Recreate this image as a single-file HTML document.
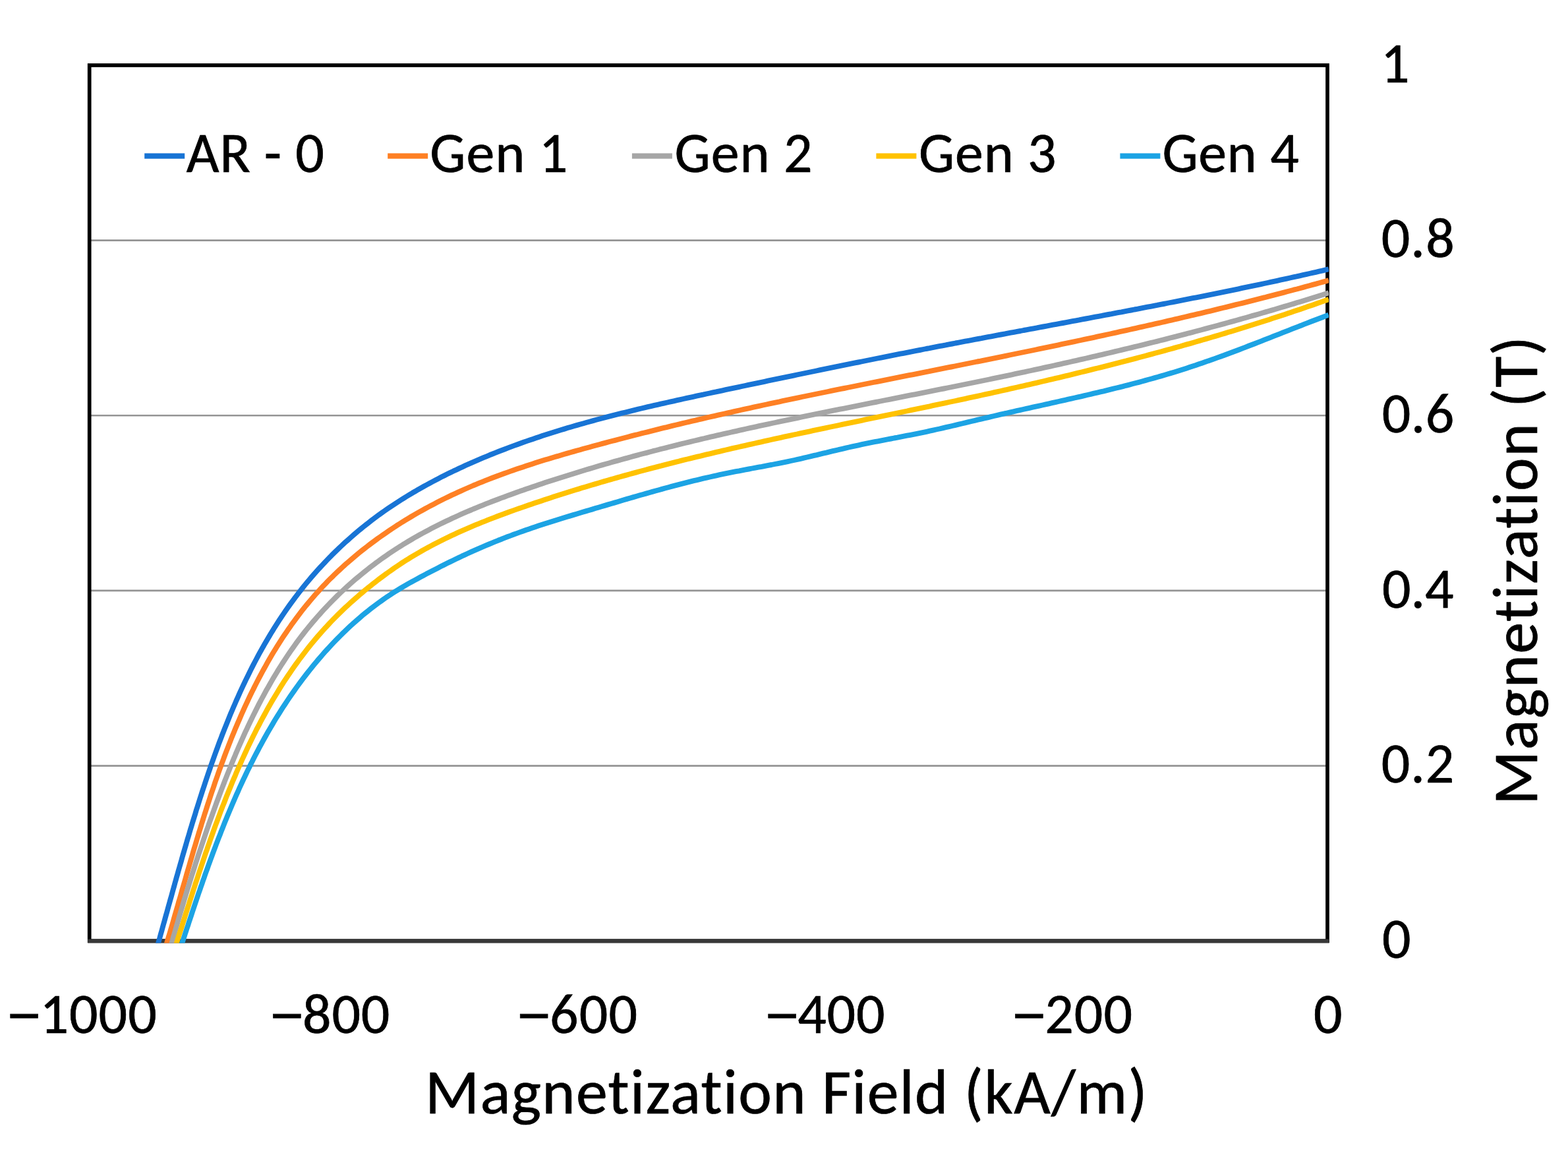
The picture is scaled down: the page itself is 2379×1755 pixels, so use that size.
<!DOCTYPE html>
<html><head><meta charset="utf-8"><title>Magnetization chart</title>
<style>
html,body{margin:0;padding:0;background:#fff;}
body{width:2379px;height:1755px;overflow:hidden;}
svg{display:block;}
text{font-family:"Carlito", "Liberation Sans", sans-serif;fill:#000;stroke:#000;stroke-width:0.7px;font-variant-ligatures:none;font-size-adjust:cap-height 0.6416;}
.mn{font-family:"Liberation Sans",sans-serif;font-size-adjust:none;}
</style></head><body>
<svg width="2379" height="1755" viewBox="0 0 2379 1755">
<rect width="2379" height="1755" fill="#fff"/>
<line x1="135.7" y1="1161.6" x2="2014.0" y2="1161.6" stroke="#949494" stroke-width="2.6"/>
<line x1="135.7" y1="895.9" x2="2014.0" y2="895.9" stroke="#949494" stroke-width="2.6"/>
<line x1="135.7" y1="630.3" x2="2014.0" y2="630.3" stroke="#949494" stroke-width="2.6"/>
<line x1="135.7" y1="364.6" x2="2014.0" y2="364.6" stroke="#949494" stroke-width="2.6"/>
<rect x="135.7" y="99.0" width="1878.3" height="1328.2" fill="none" stroke="#000" stroke-width="5.7"/>
<line x1="133.1" y1="1427.5" x2="2016.6" y2="1427.5" stroke="#383838" stroke-width="6"/>
<clipPath id="c"><rect x="135.7" y="99.0" width="1880.3" height="1331.6"/></clipPath>
<g clip-path="url(#c)" fill="none" stroke-width="7.9" stroke-linejoin="round" stroke-linecap="butt">
<path d="M237.2,1440.8 L238.6,1436.0 L239.9,1431.3 L241.3,1426.5 L242.6,1421.7 L243.9,1416.9 L245.3,1412.1 L246.6,1407.3 L247.9,1402.5 L249.3,1397.7 L250.6,1392.9 L251.9,1388.1 L253.3,1383.3 L254.6,1378.5 L255.9,1373.7 L257.3,1368.9 L258.6,1364.1 L260.0,1359.3 L261.3,1354.5 L262.6,1349.7 L264.0,1344.9 L265.3,1340.0 L266.7,1335.2 L268.0,1330.4 L269.4,1325.6 L270.7,1320.8 L272.1,1316.0 L273.5,1311.2 L274.9,1306.4 L276.2,1301.5 L277.6,1296.7 L279.0,1291.9 L280.4,1287.1 L281.8,1282.3 L283.2,1277.5 L284.6,1272.7 L286.1,1267.8 L287.5,1263.0 L288.9,1258.2 L290.4,1253.4 L291.8,1248.6 L293.3,1243.8 L294.8,1239.0 L296.3,1234.2 L297.7,1229.3 L299.3,1224.5 L300.8,1219.7 L302.3,1214.9 L303.8,1210.1 L305.4,1205.3 L306.9,1200.5 L308.5,1195.7 L310.1,1190.9 L311.7,1186.1 L313.3,1181.3 L314.9,1176.5 L316.5,1171.7 L318.2,1166.9 L319.8,1162.1 L321.5,1157.3 L323.2,1152.6 L324.9,1147.8 L326.6,1143.0 L328.3,1138.3 L330.1,1133.5 L331.8,1128.7 L333.6,1124.0 L335.4,1119.3 L337.2,1114.5 L339.1,1109.8 L340.9,1105.1 L342.8,1100.4 L344.7,1095.7 L346.6,1091.0 L348.5,1086.3 L350.4,1081.6 L352.4,1077.0 L354.4,1072.3 L356.4,1067.7 L358.4,1063.0 L360.5,1058.4 L362.5,1053.8 L364.6,1049.2 L366.7,1044.6 L368.8,1040.1 L371.0,1035.5 L373.2,1030.9 L375.4,1026.4 L377.6,1021.9 L379.8,1017.4 L382.1,1012.9 L384.4,1008.4 L386.7,1004.0 L389.1,999.5 L391.4,995.1 L393.8,990.7 L396.3,986.3 L398.7,981.9 L401.2,977.6 L403.7,973.2 L406.2,968.9 L408.8,964.6 L411.4,960.3 L414.0,956.1 L416.6,951.8 L419.3,947.6 L422.0,943.4 L424.7,939.2 L427.5,935.1 L430.3,930.9 L433.1,926.8 L435.9,922.7 L438.8,918.6 L441.7,914.6 L444.7,910.6 L447.6,906.6 L450.7,902.6 L453.7,898.6 L456.8,894.7 L459.9,890.8 L463.0,886.9 L466.2,883.0 L469.4,879.2 L472.6,875.4 L475.9,871.6 L479.2,867.9 L482.5,864.2 L485.9,860.5 L489.3,856.8 L492.7,853.2 L496.1,849.6 L499.6,846.0 L503.1,842.4 L506.7,838.9 L510.3,835.4 L513.9,831.9 L517.5,828.5 L521.1,825.1 L524.8,821.7 L528.6,818.4 L532.3,815.1 L536.1,811.8 L539.9,808.5 L543.7,805.3 L547.6,802.1 L551.4,799.0 L555.4,795.8 L559.3,792.8 L563.3,789.7 L567.3,786.7 L571.3,783.7 L575.3,780.7 L579.4,777.8 L583.5,774.9 L587.6,772.1 L591.7,769.3 L595.9,766.5 L600.1,763.7 L604.3,761.0 L608.5,758.3 L612.8,755.6 L617.0,753.0 L621.3,750.4 L625.6,747.8 L630.0,745.3 L634.3,742.7 L638.7,740.3 L643.1,737.8 L647.5,735.4 L651.9,733.0 L656.3,730.6 L660.8,728.2 L665.2,725.9 L669.7,723.6 L674.2,721.4 L678.7,719.1 L683.2,716.9 L687.7,714.7 L692.3,712.6 L696.8,710.4 L701.4,708.3 L705.9,706.2 L710.5,704.2 L715.1,702.1 L719.7,700.1 L724.3,698.1 L728.9,696.1 L733.5,694.2 L738.1,692.3 L742.8,690.3 L747.4,688.5 L752.1,686.6 L756.7,684.8 L761.4,683.0 L766.1,681.2 L770.8,679.4 L775.5,677.6 L780.2,675.9 L784.9,674.2 L789.6,672.5 L794.3,670.8 L799.1,669.1 L803.8,667.5 L808.6,665.9 L813.3,664.3 L818.1,662.7 L822.8,661.1 L827.6,659.6 L832.4,658.0 L837.2,656.5 L842.0,655.0 L846.8,653.5 L851.6,652.0 L856.4,650.6 L861.2,649.1 L866.0,647.7 L870.8,646.3 L875.7,644.9 L880.5,643.5 L885.3,642.2 L890.2,640.8 L895.0,639.5 L899.9,638.1 L904.7,636.8 L909.6,635.5 L914.5,634.2 L919.3,632.9 L924.2,631.7 L929.1,630.4 L934.0,629.2 L938.9,627.9 L943.7,626.7 L948.6,625.5 L953.5,624.3 L958.4,623.1 L963.3,621.9 L968.2,620.7 L973.1,619.5 L978.0,618.4 L982.9,617.2 L987.8,616.1 L992.7,614.9 L997.7,613.8 L1002.6,612.7 L1007.5,611.6 L1012.4,610.5 L1017.3,609.4 L1022.3,608.3 L1027.2,607.2 L1032.1,606.1 L1037.0,605.0 L1041.9,603.9 L1046.9,602.8 L1051.8,601.8 L1056.7,600.7 L1061.6,599.6 L1066.6,598.6 L1071.5,597.5 L1076.4,596.5 L1081.3,595.4 L1086.3,594.4 L1091.2,593.3 L1096.1,592.3 L1101.0,591.2 L1105.9,590.2 L1110.9,589.1 L1115.8,588.1 L1120.7,587.1 L1125.6,586.0 L1130.5,585.0 L1135.4,583.9 L1140.4,582.9 L1145.3,581.9 L1150.2,580.8 L1155.1,579.8 L1160.0,578.8 L1164.9,577.7 L1169.8,576.7 L1174.7,575.7 L1179.6,574.7 L1184.5,573.6 L1189.4,572.6 L1194.3,571.6 L1199.3,570.6 L1204.2,569.6 L1209.1,568.5 L1214.0,567.5 L1218.9,566.5 L1223.8,565.5 L1228.7,564.5 L1233.6,563.5 L1238.5,562.5 L1243.4,561.4 L1248.3,560.4 L1253.2,559.4 L1258.1,558.4 L1263.0,557.4 L1267.9,556.4 L1272.8,555.4 L1277.7,554.4 L1282.6,553.4 L1287.5,552.4 L1292.4,551.4 L1297.3,550.4 L1302.2,549.5 L1307.1,548.5 L1312.0,547.5 L1316.9,546.5 L1321.9,545.5 L1326.8,544.5 L1331.7,543.5 L1336.6,542.6 L1341.5,541.6 L1346.4,540.6 L1351.3,539.6 L1356.2,538.7 L1361.1,537.7 L1366.0,536.7 L1370.9,535.8 L1375.8,534.8 L1380.8,533.8 L1385.7,532.9 L1390.6,531.9 L1395.5,531.0 L1400.4,530.0 L1405.3,529.0 L1410.3,528.1 L1415.2,527.1 L1420.1,526.2 L1425.0,525.2 L1429.9,524.3 L1434.9,523.4 L1439.8,522.4 L1444.7,521.5 L1449.6,520.5 L1454.6,519.6 L1459.5,518.7 L1464.4,517.7 L1469.3,516.8 L1474.3,515.9 L1479.2,514.9 L1484.1,514.0 L1489.1,513.1 L1494.0,512.1 L1498.9,511.2 L1503.9,510.3 L1508.8,509.4 L1513.7,508.4 L1518.7,507.5 L1523.6,506.6 L1528.5,505.7 L1533.5,504.7 L1538.4,503.8 L1543.3,502.9 L1548.3,502.0 L1553.2,501.0 L1558.2,500.1 L1563.1,499.2 L1568.0,498.3 L1573.0,497.4 L1577.9,496.4 L1582.8,495.5 L1587.8,494.6 L1592.7,493.7 L1597.7,492.7 L1602.6,491.8 L1607.5,490.9 L1612.5,490.0 L1617.4,489.1 L1622.4,488.1 L1627.3,487.2 L1632.2,486.3 L1637.2,485.4 L1642.1,484.4 L1647.1,483.5 L1652.0,482.6 L1656.9,481.7 L1661.9,480.7 L1666.8,479.8 L1671.8,478.9 L1676.7,477.9 L1681.6,477.0 L1686.6,476.1 L1691.5,475.1 L1696.4,474.2 L1701.4,473.3 L1706.3,472.3 L1711.3,471.4 L1716.2,470.5 L1721.1,469.5 L1726.1,468.6 L1731.0,467.6 L1735.9,466.7 L1740.9,465.7 L1745.8,464.8 L1750.7,463.8 L1755.7,462.9 L1760.6,461.9 L1765.5,461.0 L1770.5,460.0 L1775.4,459.0 L1780.3,458.1 L1785.3,457.1 L1790.2,456.1 L1795.1,455.2 L1800.1,454.2 L1805.0,453.2 L1809.9,452.2 L1814.8,451.3 L1819.8,450.3 L1824.7,449.3 L1829.6,448.3 L1834.5,447.3 L1839.5,446.3 L1844.4,445.3 L1849.3,444.3 L1854.2,443.3 L1859.1,442.3 L1864.0,441.3 L1869.0,440.3 L1873.9,439.3 L1878.8,438.3 L1883.7,437.2 L1888.6,436.2 L1893.5,435.2 L1898.4,434.2 L1903.3,433.1 L1908.3,432.1 L1913.2,431.1 L1918.1,430.0 L1923.0,429.0 L1927.9,427.9 L1932.8,426.9 L1937.7,425.8 L1942.6,424.7 L1947.5,423.7 L1952.4,422.6 L1957.3,421.5 L1962.2,420.4 L1967.1,419.4 L1971.9,418.3 L1976.8,417.2 L1981.7,416.1 L1986.6,415.0 L1991.5,413.9 L1996.4,412.8 L2001.3,411.7 L2006.1,410.6 L2011.0,409.4 L2015.9,408.3" stroke="#1874d5"/>
<path d="M249.9,1440.9 L251.4,1436.1 L252.8,1431.3 L254.2,1426.5 L255.6,1421.7 L257.1,1417.0 L258.5,1412.2 L259.9,1407.4 L261.3,1402.6 L262.7,1397.8 L264.0,1393.0 L265.4,1388.2 L266.8,1383.4 L268.2,1378.6 L269.6,1373.8 L270.9,1369.0 L272.3,1364.3 L273.7,1359.5 L275.1,1354.7 L276.4,1349.9 L277.8,1345.1 L279.2,1340.3 L280.6,1335.5 L282.0,1330.7 L283.3,1325.9 L284.7,1321.1 L286.1,1316.3 L287.5,1311.5 L288.9,1306.7 L290.3,1301.9 L291.7,1297.1 L293.1,1292.2 L294.5,1287.4 L296.0,1282.6 L297.4,1277.8 L298.8,1273.0 L300.3,1268.2 L301.7,1263.4 L303.2,1258.6 L304.7,1253.8 L306.1,1249.0 L307.6,1244.2 L309.1,1239.4 L310.6,1234.6 L312.2,1229.8 L313.7,1225.0 L315.2,1220.2 L316.8,1215.4 L318.4,1210.6 L319.9,1205.8 L321.5,1201.0 L323.2,1196.2 L324.8,1191.4 L326.4,1186.6 L328.1,1181.8 L329.8,1177.0 L331.4,1172.3 L333.1,1167.5 L334.9,1162.7 L336.6,1157.9 L338.4,1153.2 L340.1,1148.4 L341.9,1143.6 L343.7,1138.9 L345.6,1134.1 L347.4,1129.4 L349.3,1124.6 L351.1,1119.9 L353.0,1115.2 L355.0,1110.5 L356.9,1105.8 L358.9,1101.1 L360.9,1096.4 L362.9,1091.8 L364.9,1087.1 L366.9,1082.5 L369.0,1077.8 L371.1,1073.2 L373.2,1068.6 L375.4,1064.0 L377.5,1059.4 L379.7,1054.8 L381.9,1050.3 L384.2,1045.8 L386.4,1041.2 L388.7,1036.7 L391.0,1032.2 L393.3,1027.8 L395.7,1023.3 L398.1,1018.9 L400.5,1014.5 L403.0,1010.1 L405.4,1005.7 L407.9,1001.3 L410.4,997.0 L413.0,992.6 L415.6,988.3 L418.2,984.1 L420.8,979.8 L423.5,975.6 L426.2,971.4 L428.9,967.2 L431.7,963.0 L434.5,958.9 L437.3,954.8 L440.2,950.7 L443.0,946.6 L446.0,942.6 L448.9,938.6 L451.9,934.6 L454.9,930.6 L457.9,926.7 L461.0,922.8 L464.1,918.9 L467.3,915.1 L470.5,911.3 L473.7,907.5 L477.0,903.7 L480.2,900.0 L483.6,896.3 L486.9,892.6 L490.3,889.0 L493.8,885.4 L497.2,881.8 L500.7,878.3 L504.3,874.8 L507.8,871.3 L511.4,867.9 L515.1,864.5 L518.7,861.1 L522.4,857.8 L526.1,854.4 L529.9,851.2 L533.7,847.9 L537.5,844.7 L541.3,841.5 L545.2,838.3 L549.1,835.2 L553.0,832.1 L557.0,829.0 L560.9,826.0 L564.9,823.0 L569.0,820.0 L573.0,817.0 L577.1,814.1 L581.2,811.2 L585.3,808.4 L589.5,805.5 L593.6,802.7 L597.8,800.0 L602.0,797.2 L606.3,794.5 L610.5,791.8 L614.8,789.2 L619.1,786.6 L623.4,784.0 L627.8,781.4 L632.1,778.9 L636.5,776.4 L640.9,774.0 L645.3,771.5 L649.7,769.1 L654.2,766.7 L658.7,764.4 L663.1,762.1 L667.6,759.8 L672.1,757.5 L676.7,755.3 L681.2,753.1 L685.7,750.9 L690.3,748.8 L694.9,746.7 L699.5,744.6 L704.1,742.5 L708.7,740.5 L713.3,738.5 L717.9,736.5 L722.6,734.6 L727.2,732.7 L731.9,730.8 L736.6,728.9 L741.2,727.1 L745.9,725.3 L750.6,723.5 L755.3,721.7 L760.1,720.0 L764.8,718.3 L769.5,716.6 L774.3,714.9 L779.0,713.2 L783.8,711.6 L788.5,710.0 L793.3,708.4 L798.1,706.8 L802.9,705.2 L807.7,703.7 L812.5,702.1 L817.3,700.6 L822.1,699.1 L826.9,697.6 L831.7,696.2 L836.5,694.7 L841.3,693.3 L846.2,691.9 L851.0,690.4 L855.8,689.0 L860.7,687.6 L865.5,686.3 L870.4,684.9 L875.2,683.5 L880.1,682.2 L884.9,680.8 L889.8,679.5 L894.6,678.2 L899.5,676.8 L904.3,675.5 L909.2,674.2 L914.0,672.9 L918.9,671.6 L923.7,670.3 L928.6,669.0 L933.4,667.8 L938.3,666.5 L943.2,665.2 L948.0,664.0 L952.9,662.7 L957.7,661.4 L962.6,660.2 L967.5,659.0 L972.3,657.7 L977.2,656.5 L982.1,655.3 L986.9,654.1 L991.8,652.9 L996.7,651.6 L1001.5,650.4 L1006.4,649.2 L1011.3,648.1 L1016.1,646.9 L1021.0,645.7 L1025.9,644.5 L1030.8,643.3 L1035.6,642.2 L1040.5,641.0 L1045.4,639.9 L1050.3,638.7 L1055.2,637.6 L1060.0,636.4 L1064.9,635.3 L1069.8,634.2 L1074.7,633.0 L1079.6,631.9 L1084.5,630.8 L1089.4,629.7 L1094.2,628.6 L1099.1,627.5 L1104.0,626.4 L1108.9,625.3 L1113.8,624.2 L1118.7,623.1 L1123.6,622.0 L1128.5,620.9 L1133.4,619.8 L1138.3,618.8 L1143.2,617.7 L1148.1,616.6 L1153.0,615.6 L1157.9,614.5 L1162.8,613.5 L1167.7,612.4 L1172.6,611.4 L1177.5,610.3 L1182.5,609.3 L1187.4,608.2 L1192.3,607.2 L1197.2,606.2 L1202.1,605.1 L1207.0,604.1 L1211.9,603.1 L1216.8,602.0 L1221.8,601.0 L1226.7,600.0 L1231.6,599.0 L1236.5,598.0 L1241.4,597.0 L1246.3,596.0 L1251.3,595.0 L1256.2,594.0 L1261.1,592.9 L1266.0,591.9 L1270.9,590.9 L1275.9,589.9 L1280.8,589.0 L1285.7,588.0 L1290.6,587.0 L1295.6,586.0 L1300.5,585.0 L1305.4,584.0 L1310.3,583.0 L1315.3,582.0 L1320.2,581.0 L1325.1,580.0 L1330.0,579.1 L1335.0,578.1 L1339.9,577.1 L1344.8,576.1 L1349.7,575.1 L1354.7,574.1 L1359.6,573.2 L1364.5,572.2 L1369.4,571.2 L1374.4,570.2 L1379.3,569.2 L1384.2,568.3 L1389.2,567.3 L1394.1,566.3 L1399.0,565.3 L1403.9,564.3 L1408.9,563.4 L1413.8,562.4 L1418.7,561.4 L1423.6,560.4 L1428.6,559.4 L1433.5,558.4 L1438.4,557.4 L1443.3,556.5 L1448.3,555.5 L1453.2,554.5 L1458.1,553.5 L1463.0,552.5 L1468.0,551.5 L1472.9,550.5 L1477.8,549.5 L1482.7,548.5 L1487.7,547.6 L1492.6,546.6 L1497.5,545.6 L1502.4,544.6 L1507.4,543.6 L1512.3,542.6 L1517.2,541.6 L1522.1,540.6 L1527.0,539.6 L1532.0,538.5 L1536.9,537.5 L1541.8,536.5 L1546.7,535.5 L1551.6,534.5 L1556.6,533.5 L1561.5,532.5 L1566.4,531.5 L1571.3,530.5 L1576.2,529.4 L1581.2,528.4 L1586.1,527.4 L1591.0,526.4 L1595.9,525.3 L1600.8,524.3 L1605.7,523.3 L1610.6,522.2 L1615.6,521.2 L1620.5,520.2 L1625.4,519.1 L1630.3,518.1 L1635.2,517.0 L1640.1,516.0 L1645.0,514.9 L1649.9,513.9 L1654.9,512.8 L1659.8,511.8 L1664.7,510.7 L1669.6,509.7 L1674.5,508.6 L1679.4,507.5 L1684.3,506.5 L1689.2,505.4 L1694.1,504.3 L1699.0,503.2 L1703.9,502.2 L1708.8,501.1 L1713.7,500.0 L1718.6,498.9 L1723.5,497.8 L1728.4,496.7 L1733.3,495.6 L1738.2,494.5 L1743.1,493.4 L1748.0,492.3 L1752.9,491.2 L1757.8,490.1 L1762.7,489.0 L1767.6,487.8 L1772.5,486.7 L1777.4,485.6 L1782.3,484.4 L1787.2,483.3 L1792.1,482.2 L1796.9,481.0 L1801.8,479.9 L1806.7,478.7 L1811.6,477.6 L1816.5,476.4 L1821.4,475.3 L1826.3,474.1 L1831.1,472.9 L1836.0,471.8 L1840.9,470.6 L1845.8,469.4 L1850.7,468.2 L1855.5,467.0 L1860.4,465.8 L1865.3,464.6 L1870.2,463.4 L1875.0,462.2 L1879.9,461.0 L1884.8,459.8 L1889.7,458.6 L1894.5,457.4 L1899.4,456.1 L1904.3,454.9 L1909.1,453.7 L1914.0,452.4 L1918.9,451.2 L1923.7,449.9 L1928.6,448.7 L1933.5,447.4 L1938.3,446.1 L1943.2,444.9 L1948.0,443.6 L1952.9,442.3 L1957.8,441.0 L1962.6,439.7 L1967.5,438.5 L1972.3,437.2 L1977.2,435.9 L1982.0,434.5 L1986.9,433.2 L1991.7,431.9 L1996.6,430.6 L2001.4,429.2 L2006.3,427.9 L2011.1,426.6 L2015.9,425.2" stroke="#fe8024"/>
<path d="M257.6,1441.0 L258.9,1436.1 L260.3,1431.3 L261.7,1426.5 L263.0,1421.6 L264.4,1416.8 L265.8,1412.0 L267.2,1407.2 L268.6,1402.3 L270.0,1397.5 L271.4,1392.7 L272.8,1387.9 L274.2,1383.1 L275.6,1378.3 L277.1,1373.5 L278.5,1368.7 L279.9,1363.9 L281.4,1359.1 L282.8,1354.4 L284.3,1349.6 L285.8,1344.8 L287.3,1340.0 L288.7,1335.2 L290.2,1330.5 L291.7,1325.7 L293.3,1320.9 L294.8,1316.2 L296.3,1311.4 L297.8,1306.7 L299.4,1301.9 L300.9,1297.2 L302.5,1292.4 L304.1,1287.7 L305.7,1282.9 L307.3,1278.2 L308.9,1273.4 L310.5,1268.7 L312.1,1264.0 L313.7,1259.2 L315.4,1254.5 L317.0,1249.8 L318.7,1245.0 L320.4,1240.3 L322.1,1235.6 L323.8,1230.9 L325.5,1226.2 L327.2,1221.4 L328.9,1216.7 L330.7,1212.0 L332.4,1207.3 L334.2,1202.6 L336.0,1197.9 L337.8,1193.2 L339.6,1188.5 L341.4,1183.7 L343.3,1179.0 L345.1,1174.4 L347.0,1169.7 L348.9,1165.0 L350.8,1160.3 L352.7,1155.6 L354.6,1150.9 L356.6,1146.3 L358.5,1141.6 L360.5,1137.0 L362.5,1132.3 L364.6,1127.7 L366.6,1123.1 L368.7,1118.4 L370.7,1113.8 L372.8,1109.2 L375.0,1104.7 L377.1,1100.1 L379.3,1095.5 L381.5,1091.0 L383.7,1086.4 L385.9,1081.9 L388.2,1077.4 L390.4,1072.9 L392.7,1068.4 L395.1,1063.9 L397.4,1059.5 L399.8,1055.1 L402.2,1050.6 L404.6,1046.2 L407.1,1041.9 L409.6,1037.5 L412.1,1033.1 L414.6,1028.8 L417.2,1024.5 L419.8,1020.2 L422.4,1015.9 L425.1,1011.7 L427.7,1007.5 L430.5,1003.3 L433.2,999.1 L436.0,994.9 L438.8,990.8 L441.6,986.6 L444.5,982.6 L447.4,978.5 L450.3,974.4 L453.3,970.4 L456.3,966.4 L459.3,962.5 L462.4,958.5 L465.5,954.6 L468.7,950.7 L471.8,946.9 L475.0,943.1 L478.3,939.3 L481.6,935.5 L484.9,931.8 L488.2,928.1 L491.6,924.4 L495.1,920.7 L498.5,917.1 L502.0,913.5 L505.5,910.0 L509.1,906.4 L512.6,902.9 L516.2,899.5 L519.9,896.0 L523.6,892.6 L527.3,889.3 L531.0,885.9 L534.7,882.6 L538.5,879.3 L542.4,876.1 L546.2,872.9 L550.1,869.7 L554.0,866.6 L557.9,863.5 L561.8,860.4 L565.8,857.4 L569.8,854.3 L573.9,851.4 L577.9,848.4 L582.0,845.5 L586.1,842.7 L590.2,839.8 L594.4,837.0 L598.6,834.3 L602.8,831.5 L607.0,828.9 L611.2,826.2 L615.5,823.6 L619.8,821.0 L624.1,818.5 L628.4,815.9 L632.7,813.5 L637.1,811.0 L641.5,808.6 L645.9,806.2 L650.3,803.9 L654.7,801.6 L659.2,799.3 L663.7,797.0 L668.1,794.8 L672.6,792.6 L677.2,790.4 L681.7,788.3 L686.2,786.1 L690.8,784.1 L695.4,782.0 L699.9,779.9 L704.5,777.9 L709.2,775.9 L713.8,774.0 L718.4,772.0 L723.1,770.1 L727.7,768.2 L732.4,766.3 L737.0,764.4 L741.7,762.6 L746.4,760.8 L751.1,759.0 L755.8,757.2 L760.5,755.4 L765.3,753.7 L770.0,751.9 L774.7,750.2 L779.5,748.5 L784.2,746.8 L788.9,745.1 L793.7,743.5 L798.4,741.8 L803.2,740.2 L808.0,738.5 L812.7,736.9 L817.5,735.3 L822.3,733.7 L827.0,732.1 L831.8,730.6 L836.6,729.0 L841.4,727.4 L846.1,725.9 L850.9,724.4 L855.7,722.9 L860.5,721.4 L865.3,719.9 L870.1,718.4 L874.9,716.9 L879.7,715.4 L884.5,714.0 L889.3,712.5 L894.1,711.1 L898.9,709.7 L903.7,708.2 L908.5,706.8 L913.4,705.4 L918.2,704.0 L923.0,702.7 L927.8,701.3 L932.6,699.9 L937.5,698.6 L942.3,697.2 L947.1,695.9 L952.0,694.6 L956.8,693.2 L961.6,691.9 L966.5,690.6 L971.3,689.3 L976.2,688.0 L981.0,686.8 L985.9,685.5 L990.7,684.2 L995.6,683.0 L1000.4,681.7 L1005.3,680.5 L1010.1,679.3 L1015.0,678.0 L1019.9,676.8 L1024.7,675.6 L1029.6,674.4 L1034.5,673.2 L1039.3,672.0 L1044.2,670.8 L1049.1,669.6 L1053.9,668.5 L1058.8,667.3 L1063.7,666.1 L1068.6,665.0 L1073.4,663.8 L1078.3,662.7 L1083.2,661.6 L1088.1,660.4 L1093.0,659.3 L1097.9,658.2 L1102.7,657.1 L1107.6,656.0 L1112.5,654.9 L1117.4,653.8 L1122.3,652.7 L1127.2,651.6 L1132.1,650.5 L1137.0,649.4 L1141.9,648.4 L1146.8,647.3 L1151.7,646.2 L1156.6,645.2 L1161.5,644.1 L1166.4,643.1 L1171.3,642.0 L1176.2,641.0 L1181.1,639.9 L1186.0,638.9 L1190.9,637.9 L1195.8,636.8 L1200.7,635.8 L1205.7,634.8 L1210.6,633.8 L1215.5,632.7 L1220.4,631.7 L1225.3,630.7 L1230.2,629.7 L1235.1,628.7 L1240.0,627.7 L1245.0,626.7 L1249.9,625.7 L1254.8,624.7 L1259.7,623.7 L1264.6,622.7 L1269.5,621.7 L1274.5,620.7 L1279.4,619.8 L1284.3,618.8 L1289.2,617.8 L1294.1,616.8 L1299.1,615.8 L1304.0,614.8 L1308.9,613.9 L1313.8,612.9 L1318.8,611.9 L1323.7,610.9 L1328.6,610.0 L1333.5,609.0 L1338.4,608.0 L1343.4,607.0 L1348.3,606.1 L1353.2,605.1 L1358.1,604.1 L1363.1,603.1 L1368.0,602.2 L1372.9,601.2 L1377.8,600.2 L1382.8,599.2 L1387.7,598.3 L1392.6,597.3 L1397.5,596.3 L1402.5,595.3 L1407.4,594.4 L1412.3,593.4 L1417.2,592.4 L1422.1,591.4 L1427.1,590.4 L1432.0,589.5 L1436.9,588.5 L1441.8,587.5 L1446.7,586.5 L1451.7,585.5 L1456.6,584.5 L1461.5,583.5 L1466.4,582.5 L1471.3,581.5 L1476.3,580.5 L1481.2,579.5 L1486.1,578.5 L1491.0,577.5 L1495.9,576.5 L1500.8,575.5 L1505.8,574.4 L1510.7,573.4 L1515.6,572.4 L1520.5,571.4 L1525.4,570.3 L1530.3,569.3 L1535.2,568.3 L1540.1,567.2 L1545.0,566.2 L1549.9,565.1 L1554.9,564.1 L1559.8,563.0 L1564.7,562.0 L1569.6,560.9 L1574.5,559.9 L1579.4,558.8 L1584.3,557.7 L1589.2,556.6 L1594.1,555.6 L1599.0,554.5 L1603.9,553.4 L1608.8,552.3 L1613.7,551.2 L1618.6,550.1 L1623.5,549.0 L1628.3,547.9 L1633.2,546.8 L1638.1,545.7 L1643.0,544.6 L1647.9,543.5 L1652.8,542.3 L1657.7,541.2 L1662.6,540.1 L1667.5,538.9 L1672.3,537.8 L1677.2,536.7 L1682.1,535.5 L1687.0,534.4 L1691.9,533.2 L1696.8,532.0 L1701.6,530.9 L1706.5,529.7 L1711.4,528.5 L1716.3,527.3 L1721.1,526.2 L1726.0,525.0 L1730.9,523.8 L1735.8,522.6 L1740.6,521.4 L1745.5,520.2 L1750.4,519.0 L1755.2,517.8 L1760.1,516.5 L1765.0,515.3 L1769.8,514.1 L1774.7,512.8 L1779.5,511.6 L1784.4,510.4 L1789.2,509.1 L1794.1,507.9 L1799.0,506.6 L1803.8,505.3 L1808.7,504.1 L1813.5,502.8 L1818.4,501.5 L1823.2,500.2 L1828.1,498.9 L1832.9,497.6 L1837.7,496.3 L1842.6,495.0 L1847.4,493.7 L1852.3,492.4 L1857.1,491.1 L1861.9,489.8 L1866.8,488.4 L1871.6,487.1 L1876.5,485.7 L1881.3,484.4 L1886.1,483.0 L1890.9,481.7 L1895.8,480.3 L1900.6,478.9 L1905.4,477.6 L1910.2,476.2 L1915.1,474.8 L1919.9,473.4 L1924.7,472.0 L1929.5,470.6 L1934.3,469.2 L1939.1,467.8 L1944.0,466.3 L1948.8,464.9 L1953.6,463.5 L1958.4,462.0 L1963.2,460.6 L1968.0,459.1 L1972.8,457.7 L1977.6,456.2 L1982.4,454.7 L1987.2,453.2 L1992.0,451.7 L1996.8,450.3 L2001.6,448.8 L2006.4,447.3 L2011.1,445.7 L2015.9,444.2" stroke="#a6a6a6"/>
<path d="M264.6,1441.0 L266.1,1436.2 L267.6,1431.4 L269.1,1426.6 L270.6,1421.8 L272.1,1417.0 L273.6,1412.2 L275.2,1407.4 L276.7,1402.6 L278.2,1397.8 L279.7,1393.0 L281.2,1388.2 L282.7,1383.5 L284.2,1378.7 L285.8,1373.9 L287.3,1369.1 L288.8,1364.3 L290.4,1359.6 L291.9,1354.8 L293.4,1350.0 L295.0,1345.3 L296.5,1340.5 L298.1,1335.7 L299.7,1331.0 L301.2,1326.2 L302.8,1321.5 L304.4,1316.7 L306.0,1312.0 L307.6,1307.2 L309.2,1302.5 L310.8,1297.7 L312.4,1293.0 L314.1,1288.3 L315.7,1283.5 L317.4,1278.8 L319.0,1274.1 L320.7,1269.4 L322.4,1264.6 L324.1,1259.9 L325.8,1255.2 L327.5,1250.5 L329.3,1245.8 L331.0,1241.1 L332.8,1236.4 L334.5,1231.7 L336.3,1227.0 L338.1,1222.4 L340.0,1217.7 L341.8,1213.0 L343.6,1208.3 L345.5,1203.7 L347.4,1199.0 L349.3,1194.4 L351.2,1189.7 L353.1,1185.1 L355.1,1180.4 L357.1,1175.8 L359.0,1171.1 L361.0,1166.5 L363.1,1161.9 L365.1,1157.3 L367.2,1152.7 L369.3,1148.1 L371.4,1143.5 L373.5,1139.0 L375.6,1134.4 L377.8,1129.8 L380.0,1125.3 L382.2,1120.8 L384.4,1116.2 L386.7,1111.7 L388.9,1107.2 L391.2,1102.8 L393.6,1098.3 L395.9,1093.8 L398.3,1089.4 L400.7,1085.0 L403.1,1080.6 L405.5,1076.2 L408.0,1071.8 L410.5,1067.4 L413.0,1063.1 L415.6,1058.8 L418.2,1054.5 L420.8,1050.2 L423.4,1045.9 L426.0,1041.7 L428.7,1037.4 L431.4,1033.2 L434.2,1029.0 L437.0,1024.8 L439.8,1020.7 L442.6,1016.6 L445.4,1012.5 L448.3,1008.4 L451.3,1004.3 L454.2,1000.3 L457.2,996.3 L460.2,992.3 L463.3,988.3 L466.3,984.4 L469.4,980.5 L472.6,976.6 L475.8,972.7 L479.0,968.9 L482.2,965.1 L485.5,961.3 L488.8,957.6 L492.2,953.8 L495.6,950.2 L499.0,946.5 L502.4,942.9 L505.9,939.3 L509.4,935.7 L513.0,932.1 L516.6,928.6 L520.2,925.1 L523.8,921.7 L527.5,918.3 L531.2,914.9 L535.0,911.5 L538.7,908.2 L542.5,904.9 L546.3,901.6 L550.2,898.4 L554.1,895.1 L557.9,891.9 L561.9,888.8 L565.8,885.7 L569.8,882.6 L573.7,879.5 L577.7,876.5 L581.8,873.5 L585.8,870.5 L589.9,867.6 L594.0,864.7 L598.1,861.8 L602.3,859.0 L606.4,856.2 L610.6,853.4 L614.8,850.7 L619.1,848.1 L623.3,845.4 L627.6,842.8 L631.9,840.3 L636.2,837.8 L640.6,835.3 L644.9,832.9 L649.3,830.5 L653.7,828.1 L658.1,825.7 L662.6,823.4 L667.0,821.2 L671.5,818.9 L676.0,816.7 L680.5,814.6 L685.0,812.4 L689.6,810.3 L694.1,808.2 L698.7,806.1 L703.3,804.1 L707.9,802.1 L712.5,800.1 L717.1,798.2 L721.7,796.2 L726.4,794.3 L731.0,792.4 L735.7,790.6 L740.4,788.7 L745.0,786.9 L749.7,785.1 L754.4,783.3 L759.1,781.5 L763.9,779.8 L768.6,778.0 L773.3,776.3 L778.0,774.6 L782.8,772.9 L787.5,771.3 L792.3,769.6 L797.0,768.0 L801.8,766.3 L806.5,764.7 L811.3,763.1 L816.1,761.5 L820.8,759.9 L825.6,758.3 L830.4,756.7 L835.1,755.2 L839.9,753.6 L844.7,752.1 L849.5,750.5 L854.3,749.0 L859.1,747.5 L863.8,746.0 L868.6,744.5 L873.4,743.0 L878.2,741.6 L883.0,740.1 L887.8,738.7 L892.6,737.2 L897.5,735.8 L902.3,734.4 L907.1,732.9 L911.9,731.5 L916.7,730.1 L921.5,728.7 L926.3,727.4 L931.2,726.0 L936.0,724.6 L940.8,723.3 L945.7,721.9 L950.5,720.6 L955.3,719.3 L960.2,717.9 L965.0,716.6 L969.8,715.3 L974.7,714.0 L979.5,712.7 L984.4,711.4 L989.2,710.1 L994.1,708.9 L998.9,707.6 L1003.8,706.4 L1008.6,705.1 L1013.5,703.9 L1018.4,702.6 L1023.2,701.4 L1028.1,700.2 L1032.9,698.9 L1037.8,697.7 L1042.7,696.5 L1047.5,695.3 L1052.4,694.1 L1057.3,692.9 L1062.2,691.8 L1067.0,690.6 L1071.9,689.4 L1076.8,688.3 L1081.7,687.1 L1086.6,685.9 L1091.4,684.8 L1096.3,683.6 L1101.2,682.5 L1106.1,681.4 L1111.0,680.2 L1115.9,679.1 L1120.8,678.0 L1125.6,676.9 L1130.5,675.8 L1135.4,674.7 L1140.3,673.6 L1145.2,672.5 L1150.1,671.4 L1155.0,670.3 L1159.9,669.2 L1164.8,668.1 L1169.7,667.0 L1174.6,665.9 L1179.5,664.9 L1184.4,663.8 L1189.3,662.7 L1194.2,661.7 L1199.1,660.6 L1204.0,659.5 L1209.0,658.5 L1213.9,657.4 L1218.8,656.4 L1223.7,655.3 L1228.6,654.3 L1233.5,653.2 L1238.4,652.2 L1243.3,651.2 L1248.2,650.1 L1253.1,649.1 L1258.1,648.0 L1263.0,647.0 L1267.9,646.0 L1272.8,645.0 L1277.7,643.9 L1282.6,642.9 L1287.5,641.9 L1292.5,640.8 L1297.4,639.8 L1302.3,638.8 L1307.2,637.8 L1312.1,636.7 L1317.0,635.7 L1322.0,634.7 L1326.9,633.7 L1331.8,632.7 L1336.7,631.6 L1341.6,630.6 L1346.5,629.6 L1351.5,628.6 L1356.4,627.6 L1361.3,626.5 L1366.2,625.5 L1371.1,624.5 L1376.1,623.5 L1381.0,622.4 L1385.9,621.4 L1390.8,620.4 L1395.7,619.4 L1400.6,618.3 L1405.5,617.3 L1410.5,616.3 L1415.4,615.2 L1420.3,614.2 L1425.2,613.2 L1430.1,612.1 L1435.0,611.1 L1439.9,610.0 L1444.9,609.0 L1449.8,608.0 L1454.7,606.9 L1459.6,605.9 L1464.5,604.8 L1469.4,603.7 L1474.3,602.7 L1479.2,601.6 L1484.1,600.6 L1489.0,599.5 L1493.9,598.4 L1498.8,597.3 L1503.7,596.3 L1508.6,595.2 L1513.6,594.1 L1518.5,593.0 L1523.4,591.9 L1528.3,590.8 L1533.1,589.7 L1538.0,588.6 L1542.9,587.5 L1547.8,586.4 L1552.7,585.3 L1557.6,584.2 L1562.5,583.1 L1567.4,581.9 L1572.3,580.8 L1577.2,579.7 L1582.1,578.5 L1587.0,577.4 L1591.9,576.2 L1596.7,575.1 L1601.6,573.9 L1606.5,572.8 L1611.4,571.6 L1616.3,570.4 L1621.1,569.3 L1626.0,568.1 L1630.9,566.9 L1635.8,565.7 L1640.7,564.5 L1645.5,563.4 L1650.4,562.2 L1655.3,560.9 L1660.1,559.7 L1665.0,558.5 L1669.9,557.3 L1674.7,556.1 L1679.6,554.9 L1684.5,553.6 L1689.3,552.4 L1694.2,551.1 L1699.0,549.9 L1703.9,548.6 L1708.8,547.4 L1713.6,546.1 L1718.5,544.9 L1723.3,543.6 L1728.2,542.3 L1733.0,541.0 L1737.9,539.7 L1742.7,538.4 L1747.6,537.1 L1752.4,535.8 L1757.2,534.5 L1762.1,533.2 L1766.9,531.9 L1771.7,530.5 L1776.6,529.2 L1781.4,527.9 L1786.2,526.5 L1791.1,525.2 L1795.9,523.8 L1800.7,522.4 L1805.6,521.1 L1810.4,519.7 L1815.2,518.3 L1820.0,516.9 L1824.8,515.5 L1829.6,514.1 L1834.5,512.7 L1839.3,511.3 L1844.1,509.9 L1848.9,508.4 L1853.7,507.0 L1858.5,505.6 L1863.3,504.1 L1868.1,502.7 L1872.9,501.2 L1877.7,499.7 L1882.5,498.3 L1887.3,496.8 L1892.1,495.3 L1896.9,493.8 L1901.7,492.3 L1906.4,490.8 L1911.2,489.3 L1916.0,487.7 L1920.8,486.2 L1925.6,484.7 L1930.3,483.1 L1935.1,481.6 L1939.9,480.0 L1944.6,478.5 L1949.4,476.9 L1954.2,475.3 L1958.9,473.7 L1963.7,472.1 L1968.4,470.5 L1973.2,468.9 L1978.0,467.3 L1982.7,465.6 L1987.5,464.0 L1992.2,462.4 L1996.9,460.7 L2001.7,459.1 L2006.4,457.4 L2011.2,455.7 L2015.9,454.0" stroke="#ffc200"/>
<path d="M272.9,1440.9 L274.5,1436.2 L276.0,1431.5 L277.5,1426.8 L279.1,1422.1 L280.6,1417.3 L282.2,1412.6 L283.7,1407.9 L285.3,1403.2 L286.8,1398.4 L288.4,1393.7 L290.0,1388.9 L291.5,1384.2 L293.1,1379.5 L294.7,1374.7 L296.3,1370.0 L297.9,1365.2 L299.5,1360.5 L301.1,1355.7 L302.8,1351.0 L304.4,1346.2 L306.1,1341.5 L307.7,1336.7 L309.4,1332.0 L311.0,1327.2 L312.7,1322.5 L314.4,1317.8 L316.1,1313.0 L317.8,1308.3 L319.5,1303.6 L321.3,1298.8 L323.0,1294.1 L324.8,1289.4 L326.6,1284.7 L328.3,1280.0 L330.1,1275.3 L331.9,1270.6 L333.8,1265.9 L335.6,1261.2 L337.5,1256.5 L339.3,1251.8 L341.2,1247.1 L343.1,1242.5 L345.0,1237.8 L346.9,1233.2 L348.9,1228.5 L350.8,1223.9 L352.8,1219.2 L354.8,1214.6 L356.8,1210.0 L358.8,1205.4 L360.9,1200.8 L362.9,1196.2 L365.0,1191.7 L367.1,1187.1 L369.2,1182.5 L371.4,1178.0 L373.5,1173.5 L375.7,1168.9 L377.9,1164.4 L380.1,1159.9 L382.4,1155.5 L384.6,1151.0 L386.9,1146.5 L389.2,1142.1 L391.6,1137.6 L393.9,1133.2 L396.3,1128.8 L398.7,1124.4 L401.1,1120.0 L403.5,1115.7 L406.0,1111.3 L408.5,1107.0 L411.0,1102.7 L413.6,1098.4 L416.1,1094.1 L418.7,1089.8 L421.3,1085.6 L424.0,1081.3 L426.6,1077.1 L429.3,1072.9 L432.1,1068.7 L434.8,1064.6 L437.6,1060.4 L440.4,1056.3 L443.2,1052.2 L446.1,1048.1 L449.0,1044.0 L451.9,1040.0 L454.9,1035.9 L457.9,1031.9 L460.9,1027.9 L463.9,1024.0 L467.0,1020.0 L470.1,1016.1 L473.2,1012.2 L476.4,1008.3 L479.6,1004.4 L482.8,1000.6 L486.1,996.8 L489.4,993.0 L492.7,989.2 L496.1,985.5 L499.5,981.8 L502.9,978.1 L506.4,974.4 L509.9,970.8 L513.4,967.2 L516.9,963.7 L520.5,960.1 L524.2,956.6 L527.8,953.2 L531.5,949.7 L535.2,946.3 L539.0,943.0 L542.7,939.7 L546.5,936.4 L550.4,933.1 L554.3,929.9 L558.2,926.8 L562.1,923.7 L566.1,920.6 L570.1,917.6 L574.1,914.6 L578.2,911.7 L582.3,908.8 L586.4,905.9 L590.5,903.2 L594.7,900.4 L599.0,897.7 L603.2,895.1 L607.5,892.5 L611.8,889.9 L616.1,887.4 L620.4,884.9 L624.8,882.5 L629.2,880.1 L633.6,877.7 L638.0,875.3 L642.4,873.0 L646.8,870.6 L651.3,868.3 L655.7,866.0 L660.2,863.7 L664.6,861.4 L669.1,859.1 L673.6,856.9 L678.1,854.6 L682.6,852.4 L687.1,850.2 L691.6,848.0 L696.1,845.9 L700.6,843.7 L705.2,841.6 L709.7,839.5 L714.3,837.4 L718.8,835.4 L723.4,833.3 L728.0,831.3 L732.6,829.4 L737.2,827.4 L741.8,825.5 L746.4,823.6 L751.1,821.7 L755.7,819.8 L760.4,818.0 L765.0,816.1 L769.7,814.3 L774.4,812.6 L779.1,810.8 L783.8,809.1 L788.5,807.4 L793.2,805.7 L797.9,804.0 L802.7,802.4 L807.4,800.8 L812.1,799.2 L816.9,797.6 L821.7,796.0 L826.4,794.5 L831.2,793.0 L836.0,791.4 L840.8,789.9 L845.6,788.4 L850.3,787.0 L855.1,785.5 L859.9,784.0 L864.7,782.6 L869.6,781.1 L874.4,779.7 L879.2,778.3 L884.0,776.8 L888.8,775.4 L893.6,774.0 L898.4,772.6 L903.2,771.1 L908.0,769.7 L912.8,768.3 L917.6,766.9 L922.5,765.4 L927.3,764.0 L932.1,762.6 L936.9,761.2 L941.7,759.7 L946.5,758.3 L951.3,756.9 L956.1,755.5 L960.9,754.1 L965.7,752.7 L970.6,751.3 L975.4,750.0 L980.2,748.6 L985.0,747.2 L989.8,745.9 L994.7,744.5 L999.5,743.2 L1004.3,741.9 L1009.1,740.5 L1014.0,739.2 L1018.8,737.9 L1023.6,736.7 L1028.5,735.4 L1033.3,734.1 L1038.2,732.9 L1043.0,731.7 L1047.9,730.4 L1052.7,729.2 L1057.6,728.1 L1062.5,726.9 L1067.3,725.7 L1072.2,724.6 L1077.1,723.5 L1082.0,722.4 L1086.9,721.3 L1091.8,720.2 L1096.7,719.2 L1101.6,718.2 L1106.5,717.2 L1111.4,716.2 L1116.3,715.2 L1121.3,714.3 L1126.2,713.3 L1131.1,712.4 L1136.0,711.5 L1141.0,710.5 L1145.9,709.6 L1150.8,708.7 L1155.8,707.8 L1160.7,706.8 L1165.6,705.9 L1170.6,705.0 L1175.5,704.0 L1180.4,703.1 L1185.3,702.1 L1190.3,701.1 L1195.2,700.1 L1200.1,699.0 L1205.0,698.0 L1209.9,696.9 L1214.8,695.8 L1219.6,694.7 L1224.5,693.5 L1229.4,692.4 L1234.3,691.2 L1239.2,690.1 L1244.0,688.9 L1248.9,687.7 L1253.8,686.6 L1258.6,685.4 L1263.5,684.2 L1268.4,683.1 L1273.3,681.9 L1278.1,680.8 L1283.0,679.6 L1287.9,678.5 L1292.8,677.4 L1297.7,676.3 L1302.6,675.3 L1307.5,674.2 L1312.4,673.2 L1317.3,672.2 L1322.2,671.2 L1327.1,670.2 L1332.0,669.3 L1336.9,668.3 L1341.9,667.3 L1346.8,666.4 L1351.7,665.5 L1356.6,664.5 L1361.6,663.6 L1366.5,662.6 L1371.4,661.7 L1376.3,660.7 L1381.2,659.8 L1386.1,658.8 L1391.1,657.8 L1396.0,656.8 L1400.9,655.8 L1405.8,654.8 L1410.7,653.7 L1415.6,652.6 L1420.4,651.5 L1425.3,650.5 L1430.2,649.3 L1435.1,648.2 L1440.0,647.1 L1444.8,646.0 L1449.7,644.8 L1454.6,643.7 L1459.5,642.5 L1464.3,641.4 L1469.2,640.2 L1474.1,639.0 L1479.0,637.9 L1483.8,636.7 L1488.7,635.6 L1493.6,634.4 L1498.5,633.3 L1503.3,632.1 L1508.2,631.0 L1513.1,629.9 L1518.0,628.7 L1522.9,627.6 L1527.8,626.5 L1532.7,625.4 L1537.5,624.3 L1542.4,623.2 L1547.3,622.1 L1552.2,621.0 L1557.1,619.9 L1562.0,618.8 L1566.9,617.7 L1571.8,616.6 L1576.7,615.6 L1581.6,614.5 L1586.5,613.4 L1591.4,612.3 L1596.3,611.2 L1601.2,610.1 L1606.1,609.0 L1611.0,607.9 L1615.9,606.8 L1620.7,605.7 L1625.6,604.6 L1630.5,603.5 L1635.4,602.4 L1640.3,601.3 L1645.2,600.1 L1650.1,599.0 L1655.0,597.9 L1659.8,596.7 L1664.7,595.6 L1669.6,594.4 L1674.5,593.3 L1679.3,592.1 L1684.2,590.9 L1689.1,589.7 L1693.9,588.5 L1698.8,587.3 L1703.7,586.1 L1708.5,584.8 L1713.4,583.6 L1718.2,582.3 L1723.1,581.0 L1727.9,579.8 L1732.7,578.5 L1737.6,577.1 L1742.4,575.8 L1747.2,574.5 L1752.0,573.1 L1756.9,571.8 L1761.7,570.4 L1766.5,569.0 L1771.3,567.5 L1776.1,566.1 L1780.9,564.7 L1785.7,563.2 L1790.4,561.7 L1795.2,560.2 L1800.0,558.7 L1804.8,557.1 L1809.5,555.5 L1814.3,554.0 L1819.0,552.3 L1823.8,550.7 L1828.5,549.1 L1833.2,547.4 L1838.0,545.8 L1842.7,544.1 L1847.4,542.4 L1852.1,540.7 L1856.9,539.0 L1861.6,537.2 L1866.3,535.5 L1871.0,533.7 L1875.7,532.0 L1880.4,530.2 L1885.1,528.4 L1889.8,526.6 L1894.4,524.8 L1899.1,523.0 L1903.8,521.2 L1908.5,519.4 L1913.2,517.6 L1917.9,515.7 L1922.5,513.9 L1927.2,512.1 L1931.9,510.2 L1936.5,508.4 L1941.2,506.6 L1945.9,504.7 L1950.5,502.9 L1955.2,501.1 L1959.9,499.2 L1964.5,497.4 L1969.2,495.6 L1973.9,493.8 L1978.5,491.9 L1983.2,490.1 L1987.9,488.3 L1992.5,486.5 L1997.2,484.7 L2001.8,483.0 L2006.5,481.2 L2011.2,479.4 L2015.8,477.7" stroke="#1ca3e4"/>
</g>
<line x1="219.2" y1="236.6" x2="280.2" y2="236.6" stroke="#1874d5" stroke-width="8.2"/>
<line x1="588.2" y1="236.6" x2="649.2" y2="236.6" stroke="#fe8024" stroke-width="8.2"/>
<line x1="958.9" y1="236.6" x2="1019.9" y2="236.6" stroke="#a6a6a6" stroke-width="8.2"/>
<line x1="1329.4" y1="236.6" x2="1390.4" y2="236.6" stroke="#ffc200" stroke-width="8.2"/>
<line x1="1699.4" y1="236.6" x2="1760.4" y2="236.6" stroke="#1ca3e4" stroke-width="8.2"/>
<text id="leg0" x="282.7" y="260.6" font-size="86" style="letter-spacing:0.76px" textLength="209.83" lengthAdjust="spacingAndGlyphs">AR - 0</text>
<text id="leg1" x="652.3" y="260.6" font-size="86" style="letter-spacing:0.95px" textLength="210.02" lengthAdjust="spacingAndGlyphs">Gen 1</text>
<text id="leg2" x="1023.4" y="260.6" font-size="86" style="letter-spacing:1.00px" textLength="210.27" lengthAdjust="spacingAndGlyphs">Gen 2</text>
<text id="leg3" x="1393.9" y="260.6" font-size="86" style="letter-spacing:0.85px" textLength="209.52" lengthAdjust="spacingAndGlyphs">Gen 3</text>
<text id="leg4" x="1763.5" y="260.6" font-size="86" style="letter-spacing:0.50px" textLength="207.77" lengthAdjust="spacingAndGlyphs">Gen 4</text>
<text id="y1" x="2095.1" y="124.6" font-size="86" style="letter-spacing:1.00px" textLength="44.59" lengthAdjust="spacingAndGlyphs">1</text>
<text id="y0.8" x="2095.7" y="390.2" font-size="86" style="letter-spacing:1.10px" textLength="112.19" lengthAdjust="spacingAndGlyphs">0.8</text>
<text id="y0.6" x="2096.7" y="655.9" font-size="86" style="letter-spacing:0.40px" textLength="110.09" lengthAdjust="spacingAndGlyphs">0.6</text>
<text id="y0.4" x="2097.1" y="921.5" font-size="86" style="letter-spacing:-0.20px" textLength="108.30" lengthAdjust="spacingAndGlyphs">0.4</text>
<text id="y0.2" x="2095.7" y="1187.2" font-size="86" style="letter-spacing:0.90px" textLength="111.59" lengthAdjust="spacingAndGlyphs">0.2</text>
<text id="y0" x="2097.1" y="1452.8" font-size="86" style="letter-spacing:1.00px" textLength="44.59" lengthAdjust="spacingAndGlyphs">0</text>
<text id="x-1000" x="11.6" y="1567.3" font-size="86" style="letter-spacing:1.00px" textLength="227.19" lengthAdjust="spacingAndGlyphs"><tspan class="mn" dy="2.6">−</tspan><tspan dy="-2.6" dx="-2.4">1000</tspan></text>
<text id="x-800" x="410.3" y="1567.3" font-size="86" style="letter-spacing:0.83px" textLength="181.93" lengthAdjust="spacingAndGlyphs"><tspan class="mn" dy="2.6">−</tspan><tspan dy="-2.6" dx="-2.4">800</tspan></text>
<text id="x-600" x="785.1" y="1567.3" font-size="86" style="letter-spacing:1.10px" textLength="183.01" lengthAdjust="spacingAndGlyphs"><tspan class="mn" dy="2.6">−</tspan><tspan dy="-2.6" dx="-2.4">600</tspan></text>
<text id="x-400" x="1161.6" y="1567.3" font-size="86" style="letter-spacing:0.77px" textLength="181.68" lengthAdjust="spacingAndGlyphs"><tspan class="mn" dy="2.6">−</tspan><tspan dy="-2.6" dx="-2.4">400</tspan></text>
<text id="x-200" x="1536.2" y="1567.3" font-size="86" style="letter-spacing:1.10px" textLength="183.01" lengthAdjust="spacingAndGlyphs"><tspan class="mn" dy="2.6">−</tspan><tspan dy="-2.6" dx="-2.4">200</tspan></text>
<text id="x0" x="1993.0" y="1567.3" font-size="86" textLength="43.59" lengthAdjust="spacingAndGlyphs">0</text>
<text id="xt" x="645.1" y="1688.9" font-size="96" style="letter-spacing:1.31px" textLength="1096.81" lengthAdjust="spacingAndGlyphs">Magnetization Field (kA/m)</text>
<text id="yt" transform="translate(2332.0,1220.9) rotate(-90)" x="0.0" y="0" font-size="96" style="letter-spacing:1.39px" textLength="712.14" lengthAdjust="spacingAndGlyphs">Magnetization (T)</text>
</svg>
</body></html>
